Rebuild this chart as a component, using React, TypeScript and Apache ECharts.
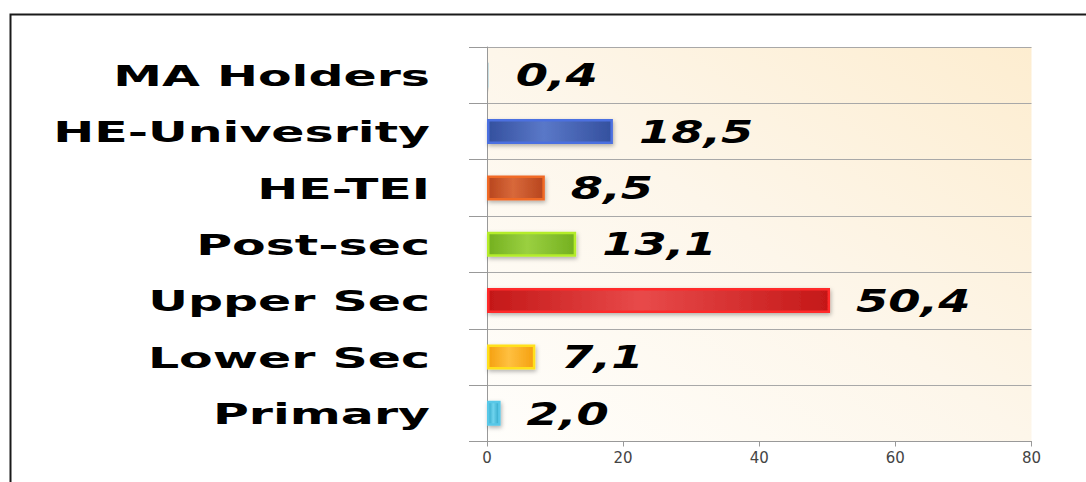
import React, { useEffect, useRef } from "react";
import * as echarts from "echarts";

const categories = ["Primary", "Lower Sec", "Upper Sec", "Post-sec", "HE-TEI", "HE-Univesrity", "MA Holders"];
const values = [2.0, 7.1, 50.4, 13.1, 8.5, 18.5, 0.4];
const xTicks = { min: 0, max: 80, interval: 20 };

const baseColors = ["#2fa6c8", "#f5a010", "#c41818", "#74b020", "#b8461e", "#34509e", "#9cbcc2"];
const lightColors = ["#6fd4ee", "#ffc040", "#e84a4a", "#9ad040", "#d8683a", "#5a78c8", "#c4dadf"];
const borderColors = ["#58c8e8", "#ffe01a", "#ff2a2a", "#b4ec2c", "#f06a28", "#4c70e0", "#c8dee2"];

function fmt(v: number): string {
  return v.toFixed(1).replace(".", ",");
}

export default function App() {
  const ref = useRef<HTMLDivElement>(null);
  useEffect(() => {
    if (!ref.current) return;
    const chart = echarts.init(ref.current, null, { renderer: "svg" });
    const option: any = {
      animation: false,
      graphic: [
        {
          type: "rect",
          silent: true,
          shape: { x: 10.5, y: 14.5, width: 1200, height: 600 },
          style: { fill: "none", stroke: "#1a1a1a", lineWidth: 2 },
        },
      ],
      grid: {
        left: 487,
        right: 54.5,
        top: 47,
        bottom: 40.5,
        show: true,
        borderWidth: 0,
        backgroundColor: new echarts.graphic.LinearGradient(0, 1, 1, 0, [
          { offset: 0, color: "#fffefb" },
          { offset: 0.5, color: "#fdf6ea" },
          { offset: 1, color: "#fdedd0" },
        ]),
      },
      xAxis: {
        type: "value",
        min: xTicks.min,
        max: xTicks.max,
        interval: xTicks.interval,
        axisLine: { show: true, lineStyle: { color: "#999", width: 1 } },
        axisTick: { show: true, length: 5, lineStyle: { color: "#999" } },
        splitLine: { show: false },
        axisLabel: {
          color: "#444",
          fontSize: 15,
          fontFamily: "DejaVu Sans",
          margin: 9,
        },
      },
      yAxis: {
        type: "category",
        data: categories,
        axisLine: { show: true, lineStyle: { color: "#999", width: 1 } },
        axisTick: { show: true, length: 18, interval: 0, lineStyle: { color: "#999" } },
        splitLine: { show: true, interval: 0, lineStyle: { color: "#a8a8a8", width: 1 } },
        axisLabel: { show: false },
      },
      series: [
        {
          type: "bar",
          barWidth: 25,
          data: values.map((v, i) => ({
            value: v,
            itemStyle: {
              color: new echarts.graphic.LinearGradient(0, 0, 1, 0, [
                { offset: 0, color: baseColors[i] },
                { offset: 0.45, color: lightColors[i] },
                { offset: 1, color: baseColors[i] },
              ]),
              borderColor: borderColors[i],
              borderWidth: 2.5,
              shadowColor: "rgba(0,0,0,0.3)",
              shadowBlur: 4,
              shadowOffsetX: 1,
              shadowOffsetY: 2,
            },
          })),
          z: 3,
        },
        {
          type: "custom",
          z: 5,
          clip: false,
          data: values.map((v, i) => [v, i]),
          renderItem: (params: any, api: any) => {
            const v = api.value(0);
            const idx = api.value(1);
            const p = api.coord([v, idx]);
            return {
              type: "text",
              x: p[0] + 26,
              y: p[1],
              scaleX: 1.45,
              style: {
                text: fmt(values[idx]),
                x: 0,
                y: 0,
                align: "left",
                verticalAlign: "middle",
                font: 'italic bold 32px "DejaVu Sans"',
                fill: "#000",
              },
            };
          },
        },
        {
          type: "custom",
          z: 5,
          clip: false,
          data: categories.map((c, i) => [0, i]),
          renderItem: (params: any, api: any) => {
            const idx = api.value(1);
            const p = api.coord([0, idx]);
            return {
              type: "text",
              x: p[0] - 57,
              y: p[1] + 1,
              scaleX: 1.75,
              style: {
                text: categories[idx],
                x: 0,
                y: 0,
                align: "right",
                verticalAlign: "middle",
                font: 'bold 28px "DejaVu Sans"',
                fill: "#000",
              },
            };
          },
        },
      ],
    };
    chart.setOption(option);
    return () => {
      chart.dispose();
    };
  }, []);
  return (
    <div
      ref={ref}
      style={{ position: "absolute", left: 0, top: 0, width: 1086, height: 482, background: "#fff" }}
    />
  );
}
